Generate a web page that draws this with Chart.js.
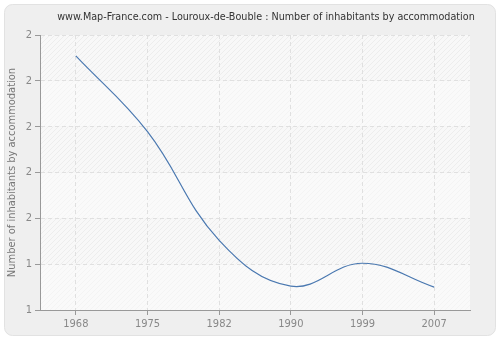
<!DOCTYPE html>
<html><head><meta charset="utf-8">
<script src="https://cdn.jsdelivr.net/npm/chart.js@4.4.1/dist/chart.umd.min.js"></script>
<style>html,body{margin:0;padding:0;background:#fff;}#wrap{width:500px;height:340px;}</style>
</head><body><div id="wrap"><canvas id="c" width="500" height="340"></canvas></div>
<script>
const titleText = "www.Map-France.com - Louroux-de-Bouble : Number of inhabitants by accommodation";
const yAxisTitle = "Number of inhabitants by accommodation";
const years = ["1968", "1975", "1982", "1990", "1999", "2007"];
const inhabitantsPerHousing = [2.386, 1.973, 1.38, 1.13, 1.255, 1.125];
const yTickLabels = ["1", "1", "2", "2", "2", "2", "2"];

const FONT = "'DejaVu Sans Condensed', 'DejaVu Sans', sans-serif";

function makePattern(ctx, base, line) {
  const p = document.createElement('canvas');
  p.width = 5; p.height = 5;
  const g = p.getContext('2d');
  g.fillStyle = base; g.fillRect(0, 0, 5, 5);
  g.strokeStyle = line; g.lineWidth = 1;
  g.beginPath();
  g.moveTo(-1, 6); g.lineTo(6, -1);
  g.moveTo(-1, 1); g.lineTo(1, -1);
  g.moveTo(4, 6); g.lineTo(6, 4);
  g.stroke();
  return ctx.createPattern(p, 'repeat');
}

const bgPlugin = {
  id: 'bg',
  beforeDraw(chart) {
    const ctx = chart.ctx;
    ctx.save();
    ctx.fillStyle = '#ffffff';
    ctx.fillRect(0, 0, chart.width, chart.height);
    const x = 4.5, y = 4.5, w = 491, h = 331, r = 8;
    ctx.beginPath();
    ctx.moveTo(x + r, y);
    ctx.arcTo(x + w, y, x + w, y + h, r);
    ctx.arcTo(x + w, y + h, x, y + h, r);
    ctx.arcTo(x, y + h, x, y, r);
    ctx.arcTo(x, y, x + w, y, r);
    ctx.closePath();
    ctx.fillStyle = '#efefef';
    ctx.fill();
    ctx.strokeStyle = '#e2e2e2';
    ctx.lineWidth = 1;
    ctx.stroke();
    const a = chart.chartArea;
    const ys = chart.scales.y;
    const ticks = ys.ticks;
    const patStrong = makePattern(ctx, '#f8f8f8', '#ededed');
    const patWeak = makePattern(ctx, '#fafafa', '#f4f4f4');
    for (let i = 0; i < ticks.length - 1; i++) {
      const y0 = ys.getPixelForValue(ticks[i].value);
      const y1 = ys.getPixelForValue(ticks[i + 1].value);
      const fromTop = ticks.length - 2 - i;
      ctx.fillStyle = (fromTop % 2 === 0) ? patStrong : patWeak;
      ctx.fillRect(a.left, y1, a.right - a.left, y0 - y1);
    }
    ctx.fillStyle = '#333333';
    ctx.font = '10.7px ' + FONT;
    ctx.textAlign = 'center';
    ctx.textBaseline = 'middle';
    ctx.fillText(titleText, 266, 17);
    ctx.restore();
  }
};

new Chart(document.getElementById('c'), {
  type: 'line',
  data: {
    labels: years,
    datasets: [{
      data: inhabitantsPerHousing,
      borderColor: '#4a78b0',
      borderWidth: 1.2,
      pointRadius: 0,
      fill: false,
      tension: 0.4
    }]
  },
  options: {
    responsive: false,
    animation: false,
    devicePixelRatio: 1,
    layout: { padding: { top: 35, right: 30, bottom: 0, left: 0 } },
    plugins: { legend: { display: false }, tooltip: { enabled: false }, title: { display: false } },
    scales: {
      x: {
        type: 'category',
        offset: true,
        afterFit(s) { s.height = 30; },
        grid: {
          offset: false,
          color: '#e0e0e0',
          lineWidth: 1,
          drawTicks: true,
          tickLength: 5,
          tickColor: '#999999',
          tickBorderDash: []
        },
        border: { display: true, color: '#999999', width: 1, dash: [4, 3] },
        ticks: { color: '#888888', font: { family: FONT, size: 11 }, padding: 3, maxRotation: 0 }
      },
      y: {
        min: 1,
        max: 2.5,
        afterFit(s) { s.width = 40; },
        afterBuildTicks(s) {
          s.ticks = [];
          for (let i = 0; i < yTickLabels.length; i++) s.ticks.push({ value: 1 + i * 0.25 });
        },
        grid: {
          color: '#e0e0e0',
          lineWidth: 1,
          drawTicks: true,
          tickLength: 5,
          tickColor: '#999999',
          tickBorderDash: []
        },
        border: { display: true, color: '#999999', width: 1, dash: [4, 3] },
        ticks: {
          color: '#888888',
          font: { family: FONT, size: 11 },
          padding: 3,
          callback: (v, i) => yTickLabels[i]
        },
        title: {
          display: true,
          text: yAxisTitle,
          color: '#777777',
          font: { family: FONT, size: 11 },
          padding: { top: 6, bottom: 0 }
        }
      }
    }
  },
  plugins: [bgPlugin]
});
</script>
</body></html>
